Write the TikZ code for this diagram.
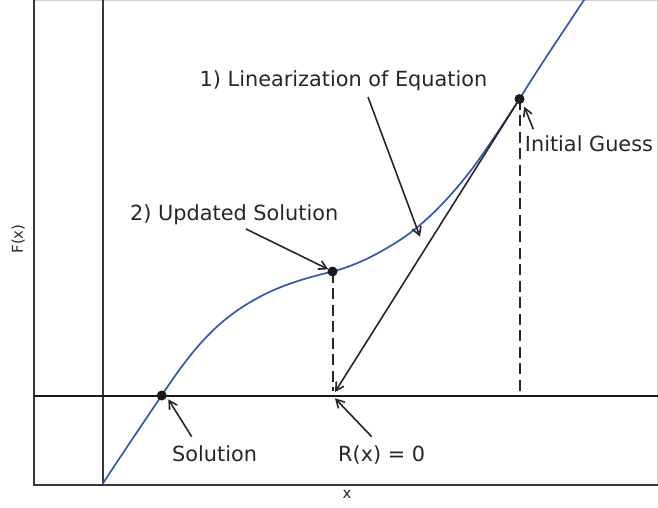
\documentclass[tikz,border=0pt]{standalone}
\usepackage{fontspec}
\setmainfont{DejaVu Sans}
\usetikzlibrary{arrows.meta}
\definecolor{curveblue}{RGB}{55,85,178}
\definecolor{spinegray}{RGB}{55,55,55}
\definecolor{edgegray}{RGB}{205,205,205}
\tikzset{
  lbl/.style={anchor=base west, inner sep=0pt, font=\fontsize{20.9}{24}\selectfont, text=black!85},
  axlbl/.style={inner sep=0pt, font=\fontsize{15}{17}\selectfont, text=black!85},
  annarrow/.style={line width=1.6bp, -{Straight Barb[length=8bp,width=9bp]}, black!85},
  dot/.style={circle, fill=black!90, inner sep=0pt, minimum size=10bp},
  dashline/.style={line width=2bp, dash pattern=on 11bp off 5.5bp, black!85},
}
\begin{document}
\begin{tikzpicture}[x=1bp,y=-1bp]
\useasboundingbox (0,0) rectangle (658,508);
% frame
\draw[edgegray, line width=1.2bp] (33.5,0.6) -- (657.4,0.6) -- (657.4,484.5);
\draw[spinegray, line width=2bp] (33.5,0) -- (33.5,484.5) -- (658,484.5);
% axes lines
\draw[spinegray, line width=2.2bp] (102.6,0) -- (102.6,484);
\draw[black!90, line width=2bp] (33.5,395.5) -- (658,395.5);
% coordinates on the curve
\coordinate (p0) at (102.5,484);
\coordinate (psol) at (161.7,395.5);
\coordinate (p2) at (210,333.3);
\coordinate (p3) at (260,296.7);
\coordinate (pupd) at (332.5,271.5);
\coordinate (p5) at (400,240);
\coordinate (p6) at (472.8,168);
\coordinate (pini) at (519.5,99);
\coordinate (p8) at (584,0);
\coordinate (p9) at (590,-9);
% curve
\begin{scope}
\clip (33.5,0) rectangle (658,484.5);
\draw[curveblue, line width=1.7bp] (p0)
  .. controls (122.23,454.0) and (141.97,424.6) .. (psol)
  .. controls (177.8,370.85) and (193.9,349.4) .. (p2)
  .. controls (226.67,316.63) and (243.33,305.53) .. (p3)
  .. controls (284.1,283.93) and (308.2,277.53) .. (pupd)
  .. controls (354.87,265.86) and (377.43,254.67) .. (p5)
  .. controls (424.27,224.23) and (448.53,199.55) .. (p6)
  .. controls (487.4,147.98) and (503.6,123.49) .. (pini)
  .. controls (540.67,64.55) and (562.33,32.93) .. (p8)
  -- (p9);
\end{scope}
% dashed verticals
\coordinate (dupd) at (332.5,391);
\coordinate (dini) at (519.5,392);
\draw[dashline] (pupd) -- (dupd);
\draw[dashline] (pini) -- (dini);
% dots
\node[dot] (nsol) at (psol) {};
\node[dot] (nupd) at (pupd) {};
\node[dot] (nini) at (pini) {};
% tangent line
\coordinate (troot) at (335,392);
\draw[annarrow] (nini.center) -- (troot);
% labels
\node[lbl] (tsol) at (172,461) {Solution};
\node[lbl] (troot0) at (338,461) {R(x) = 0};
\node[lbl] (tini) at (524.7,151.5) {Initial Guess};
\node[lbl] (tupd) at (130,221) {2) Updated Solution};
\node[lbl] (tlin) at (199.5,87) {1) Linearization of Equation};
% annotation arrows
\coordinate (asol0) at (191.7,436.7); \coordinate (asol1) at (168.3,399.3);
\coordinate (aroot0) at (371.7,436.7); \coordinate (aroot1) at (335,398.3);
\coordinate (aini0) at (533.3,129.3); \coordinate (aini1) at (524.3,106.7);
\coordinate (aupd0) at (246,229); \coordinate (aupd1) at (328.3,269.3);
\coordinate (alin0) at (368,97); \coordinate (alin1) at (420,236.7);
\draw[annarrow] (asol0) -- (asol1);
\draw[annarrow] (aroot0) -- (aroot1);
\draw[annarrow] (aini0) -- (aini1);
\draw[annarrow] (aupd0) -- (aupd1);
\draw[annarrow] (alin0) -- (alin1);
% axis labels
\node[axlbl] (xl) at (347,494) {x};
\node[axlbl, rotate=90] (yl) at (18.3,239) {F(x)};
\end{tikzpicture}
\end{document}
